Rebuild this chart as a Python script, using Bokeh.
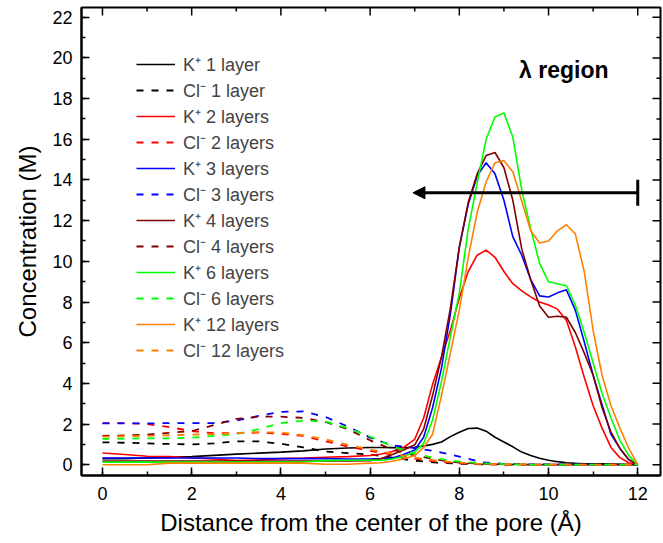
import numpy as np
from bokeh.plotting import figure
from bokeh.models import (Range1d, SingleIntervalTicker, Legend, LegendItem,
                          Arrow, NormalHead, TeeHead, Label)
from bokeh.embed import file_html
from bokeh.resources import INLINE

# ---------------- data ----------------
x_k = [0, 0.5, 1, 1.5, 2, 2.5, 3, 3.5, 4, 4.5, 5, 5.5, 6, 6.25, 6.5, 6.75,
       7.0, 7.2, 7.4, 7.6, 7.8, 8.0, 8.2, 8.4, 8.6, 8.8, 9.0, 9.2, 9.4, 9.6, 9.8,
       10.0, 10.2, 10.4, 10.6, 10.8, 11.0, 11.2, 11.4, 11.6, 11.8, 12.0]

k_1 = [0.30, 0.30, 0.33, 0.36, 0.40, 0.46, 0.52, 0.57, 0.62, 0.68, 0.77, 0.82, 0.85,
       0.85, 0.84, 0.84,
       0.86, 0.92, 1.0, 1.12, 1.38, 1.6, 1.78, 1.8, 1.65, 1.35, 1.12, 0.88, 0.62, 0.45, 0.32,
       0.22, 0.15, 0.1, 0.07, 0.05, 0.05, 0.04, 0.03, 0.02, 0.01, 0.0]
k_2 = [0.58, 0.5, 0.42, 0.4, 0.33, 0.28, 0.2, 0.23, 0.3, 0.33, 0.37, 0.4, 0.45,
       0.53, 0.65, 0.85,
       1.25, 2.3, 3.95, 5.3, 6.6, 8.2, 9.5, 10.3, 10.55, 10.2, 9.5, 8.9, 8.55, 8.25, 8.0,
       7.85, 7.65, 7.1, 5.8, 4.3, 2.9, 1.8, 0.85, 0.35, 0.1, 0.0]
k_3 = [0.33, 0.33, 0.33, 0.33, 0.33, 0.33, 0.33, 0.3, 0.3, 0.3, 0.3, 0.28, 0.28,
       0.3, 0.33, 0.5,
       0.72, 1.35, 2.8, 4.75, 7.4, 10.7, 12.8, 14.2, 14.85, 14.3, 13.0, 11.2, 10.3, 9.1, 8.3,
       8.25, 8.45, 8.6, 7.6, 6.05, 4.4, 2.95, 1.5, 0.8, 0.25, 0.0]
k_4 = [0.18, 0.18, 0.18, 0.18, 0.18, 0.18, 0.18, 0.18, 0.18, 0.18, 0.18, 0.18, 0.2,
       0.3, 0.5, 0.72,
       0.98, 1.75, 3.4, 5.3, 7.7, 10.7, 12.9, 14.3, 15.2, 15.35, 14.6, 13.0, 10.6, 9.1, 7.8,
       7.25, 7.3, 7.25, 6.5, 5.5, 4.4, 2.8, 1.6, 0.8, 0.25, 0.0]
k_6 = [0.13, 0.13, 0.13, 0.13, 0.13, 0.13, 0.13, 0.13, 0.13, 0.13, 0.2, 0.22, 0.22,
       0.22, 0.28, 0.4,
       0.62, 1.05, 2.2, 4.1, 6.3, 8.45, 11.6, 13.85, 16.0, 17.1, 17.3, 16.1, 13.5, 11.6, 9.9,
       9.0, 8.9, 8.8, 7.85, 6.5, 5.0, 3.5, 2.3, 1.2, 0.45, 0.0]
k_12 = [0.0, 0.0, 0.0, 0.08, 0.08, 0.08, 0.08, 0.08, 0.08, 0.08, 0.02, 0.02, 0.08,
        0.1, 0.17, 0.28,
        0.45, 0.85, 1.5, 3.4, 5.5, 7.6, 10.2, 12.4, 13.9, 14.85, 14.95, 14.4, 12.95, 11.5, 10.9,
        11.0, 11.5, 11.8, 11.35, 9.5, 6.6, 4.4, 2.9, 1.8, 0.8, 0.0]

x_cl = [0, 0.5, 1, 1.5, 2, 2.5, 3, 3.5, 4, 4.5, 5, 5.5, 6, 6.5, 7, 7.5, 8, 8.5,
        9, 9.5, 10, 10.5, 11, 11.5, 12]
cl_1 = [1.1, 1.08, 1.05, 1.02, 1.0, 1.05, 1.15, 1.15, 1.03, 0.85, 0.65, 0.57, 0.5,
        0.35, 0.2, 0.1, 0.05, 0.02, 0.01, 0, 0, 0, 0, 0, 0]
cl_2 = [2.05, 2.05, 2.0, 1.85, 1.65, 1.55, 1.55, 1.58, 1.52, 1.42, 1.15, 0.9, 0.68,
        0.5, 0.3, 0.15, 0.07, 0.03, 0.01, 0.01, 0, 0, 0, 0, 0]
cl_3 = [2.03, 2.03, 2.03, 2.05, 2.05, 2.05, 2.17, 2.4, 2.6, 2.62, 2.35, 1.88, 1.33,
        0.95, 0.82, 0.65, 0.4, 0.12, 0.04, 0.02, 0.01, 0.01, 0.01, 0, 0]
cl_4 = [1.42, 1.44, 1.48, 1.57, 1.65, 1.95, 2.25, 2.36, 2.36, 2.3, 2.1, 1.75, 1.2,
        0.75, 0.45, 0.25, 0.1, 0.05, 0.02, 0.01, 0, 0, 0, 0, 0]
cl_6 = [1.27, 1.28, 1.3, 1.3, 1.33, 1.42, 1.5, 1.75, 2.05, 2.17, 2.12, 1.8, 1.38,
        0.9, 0.55, 0.3, 0.15, 0.07, 0.03, 0.01, 0, 0, 0, 0, 0]
cl_12 = [1.38, 1.4, 1.42, 1.45, 1.48, 1.5, 1.55, 1.6, 1.58, 1.45, 1.25, 0.98, 0.75,
         0.55, 0.35, 0.2, 0.1, 0.04, 0.02, 0.01, 0, 0, 0, 0, 0]

layers = ["1 layer", "2 layers", "3 layers", "4 layers", "6 layers", "12 layers"]
colors = ["#000000", "#ff0000", "#0000ff", "#800000", "#00ff00", "#ff8000"]
k_series = [k_1, k_2, k_3, k_4, k_6, k_12]
cl_series = [cl_1, cl_2, cl_3, cl_4, cl_6, cl_12]

x_label = "Distance from the center of the pore (Å)"
y_label = "Concentration (M)"
region_text = "λ region"
region_pos = (9.34, 19.4)
arrow_y = 13.37
arrow_from = 12.0
arrow_to = 6.96

FONT = "Liberation Sans"
X0, X1 = -0.47, 12.51
Y0, Y1 = -0.53, 22.48

# ---------------- figure ----------------
p = figure(width=663, height=543, output_backend="svg", toolbar_location=None,
           x_range=Range1d(X0, X1), y_range=Range1d(Y0, Y1),
           min_border_left=81, min_border_right=3, min_border_top=7, min_border_bottom=68)
p.background_fill_color = "white"
p.border_fill_color = "white"
p.grid.visible = False
p.outline_line_color = "black"
p.outline_line_width = 2

def style_axis(ax):
    ax.axis_line_width = 2
    ax.axis_line_color = "black"
    ax.major_tick_in = 8
    ax.major_tick_out = 0
    ax.minor_tick_in = 4
    ax.minor_tick_out = 0
    ax.major_tick_line_width = 1.5
    ax.minor_tick_line_width = 1.5
    ax.major_label_text_font = FONT
    ax.major_label_text_font_size = "18px"
    ax.major_label_text_color = "black"
    ax.axis_label_text_font = FONT
    ax.axis_label_text_font_size = "24px"
    ax.axis_label_text_font_style = "normal"
    ax.axis_label_text_color = "black"

p.xaxis.ticker = SingleIntervalTicker(interval=2, num_minor_ticks=2)
p.yaxis.ticker = SingleIntervalTicker(interval=2, num_minor_ticks=2)
for ax in p.xaxis:
    style_axis(ax)
    ax.axis_label = x_label
    ax.major_label_standoff = 11
    ax.axis_label_standoff = 6
for ax in p.yaxis:
    style_axis(ax)
    ax.axis_label = y_label
    ax.major_label_standoff = 9
    ax.axis_label_standoff = 8

# mirrored inward ticks on the top and right frame edges
xt_major = np.arange(0, 13, 2)
xt_minor = np.arange(1, 12, 2)
yt_major = np.arange(0, 23, 2)
yt_minor = np.arange(1, 22, 2)
p.ray(x=xt_major, y=Y1, length=8, length_units="screen", angle=-np.pi / 2,
      line_color="black", line_width=1.5)
p.ray(x=xt_minor, y=Y1, length=4, length_units="screen", angle=-np.pi / 2,
      line_color="black", line_width=1.5)
p.ray(x=X1, y=yt_major, length=8, length_units="screen", angle=np.pi,
      line_color="black", line_width=1.5)
p.ray(x=X1, y=yt_minor, length=4, length_units="screen", angle=np.pi,
      line_color="black", line_width=1.5)

items = []
for name, col, ks, cs in zip(layers, colors, k_series, cl_series):
    rk = p.line(x_k, ks, line_color=col, line_width=1.6)
    rc = p.line(x_cl, cs, line_color=col, line_width=1.8, line_dash="7 8")
    items.append(LegendItem(label="K⁺ " + name, renderers=[rk]))
    items.append(LegendItem(label="Cl⁻ " + name, renderers=[rc]))

legend = Legend(items=items, location=(55, 113), padding=0, margin=0, spacing=2,
                glyph_width=39, glyph_height=20, label_height=20, label_standoff=8,
                label_text_font=FONT, label_text_font_size="18px",
                border_line_alpha=0, background_fill_alpha=0)
p.add_layout(legend)

p.add_layout(Arrow(x_start=arrow_from, y_start=arrow_y, x_end=arrow_to, y_end=arrow_y,
                   line_width=3, line_color="black",
                   start=TeeHead(size=26, line_width=3, line_color="black"),
                   end=NormalHead(size=12, fill_color="black", line_color="black", line_width=1)))

p.add_layout(Label(x=region_pos[0], y=region_pos[1], text=region_text,
                   text_font=FONT, text_font_size="23px", text_font_style="bold",
                   text_baseline="middle", text_color="black"))

open("out.html", "w").write(file_html(p, INLINE))
